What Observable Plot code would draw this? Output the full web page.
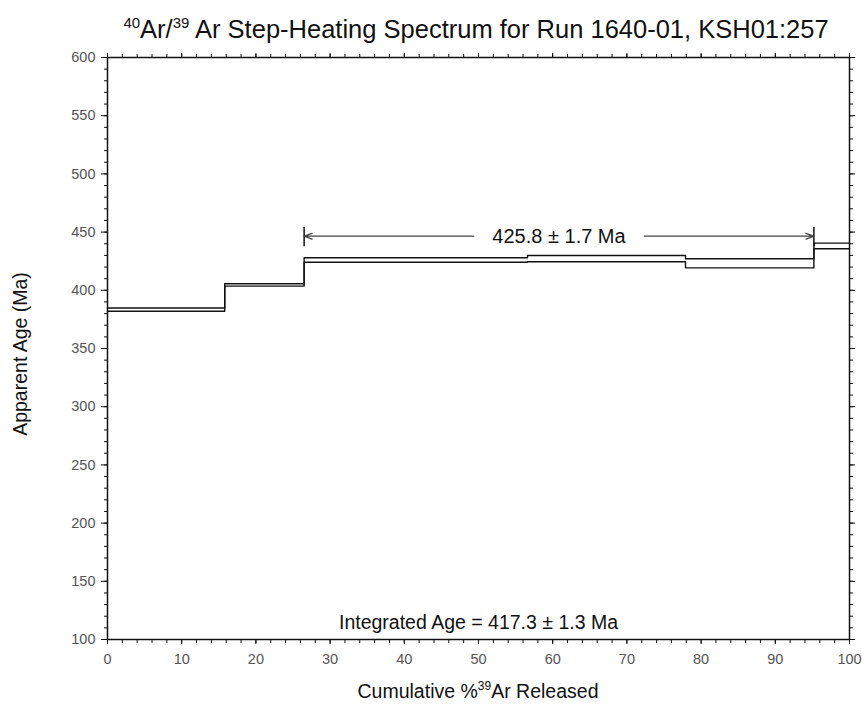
<!DOCTYPE html>
<html><head><meta charset="utf-8">
<script src="https://cdn.jsdelivr.net/npm/d3@7"></script>
<script src="https://cdn.jsdelivr.net/npm/@observablehq/plot@0.6"></script>
<style>body{margin:0;background:#fff;} #chart{width:862px;height:705px;}</style>
</head><body><div id="chart"></div>
<script>
// Step boundaries (cumulative % 39Ar released) and apparent-age envelopes (Ma)
const cumulativePct = [0, 15.8, 26.5, 56.6, 77.9, 95.2, 100];
const ageUpper = [384.8, 405.6, 427.9, 429.9, 427.1, 440.5];
const ageLower = [382.0, 403.6, 424.1, 424.5, 419.3, 435.7];
const plateauStart = 26.5;
const plateauEnd = 95.2;
const plateauArrowAge = 446.5;
const plateauLabel = "425.8 ± 1.7 Ma";
const integratedLabel = "Integrated Age = 417.3 ± 1.3 Ma";
const xMajorTicks = d3.range(0, 101, 10);
const xMinorTicks = d3.range(0, 101, 2);
const yMajorTicks = d3.range(100, 601, 50);
const yMinorTicks = d3.range(100, 601, 10);

function stepSeries(vals) {
  const pts = vals.map((v, i) => ({x: cumulativePct[i], y: v}));
  pts.push({x: cumulativePct[cumulativePct.length - 1], y: vals[vals.length - 1]});
  return pts;
}
const upper = stepSeries(ageUpper);
const lower = stepSeries(ageLower);
const mid = (plateauStart + plateauEnd) / 2;
const gap = 11.5;
const arrows = [
  {x1: mid - gap, x2: plateauStart, y: plateauArrowAge},
  {x1: mid + gap, x2: plateauEnd, y: plateauArrowAge}
];
const ends = [
  {x: plateauStart, y1: plateauArrowAge - 9, y2: plateauArrowAge + 7.5},
  {x: plateauEnd, y1: plateauArrowAge - 9, y2: plateauArrowAge + 7.5}
];
const blank = () => "";
const axisColor = "#111";

const chart = Plot.plot({
  width: 862, height: 705,
  marginLeft: 107, marginRight: 13, marginTop: 57, marginBottom: 66,
  style: {fontFamily: "'Liberation Sans', Arial, sans-serif", background: "#fff"},
  x: {domain: [0, 100]},
  y: {domain: [100, 600]},
  marks: [
    Plot.axisX(xMinorTicks, {anchor: "bottom", tickSize: 4, tickFormat: blank, label: null, stroke: axisColor}),
    Plot.axisX(xMajorTicks, {anchor: "bottom", tickSize: 5, tickPadding: 9, fontSize: 14.5, fill: "#555", label: null, stroke: axisColor}),
    Plot.axisX(xMinorTicks, {anchor: "top", tickSize: 4, tickFormat: blank, label: null, stroke: axisColor}),
    Plot.axisX(xMajorTicks, {anchor: "top", tickSize: 5, tickFormat: blank, label: null, stroke: axisColor}),
    Plot.axisY(yMinorTicks, {anchor: "left", tickSize: 3, tickFormat: blank, label: null, stroke: axisColor}),
    Plot.axisY(yMajorTicks, {anchor: "left", tickSize: 6, tickPadding: 6, fontSize: 14.5, fill: "#555", label: null, stroke: axisColor}),
    Plot.axisY(yMinorTicks, {anchor: "right", tickSize: 3, tickFormat: blank, label: null, stroke: axisColor}),
    Plot.axisY(yMajorTicks, {anchor: "right", tickSize: 5, tickFormat: blank, label: null, stroke: axisColor}),
    Plot.frame({stroke: axisColor, strokeWidth: 1.5}),
    Plot.line(upper, {x: "x", y: "y", curve: "step-after", stroke: "#111", strokeWidth: 1.4}),
    Plot.line(lower, {x: "x", y: "y", curve: "step-after", stroke: "#111", strokeWidth: 1.4}),
    Plot.ruleX(ends, {x: "x", y1: "y1", y2: "y2", stroke: "#111", strokeWidth: 1.5}),
    Plot.arrow(arrows, {x1: "x1", x2: "x2", y1: "y", y2: "y", stroke: "#444", strokeWidth: 1.4, headLength: 9, headAngle: 40}),
    Plot.text([{label: plateauLabel, x: mid, y: plateauArrowAge}], {x: "x", y: "y", text: "label", fontSize: 20, fill: "#111"}),
    Plot.text([integratedLabel], {frameAnchor: "bottom", dy: -11, fontSize: 19.5, fill: "#111"})
  ]
});
document.getElementById("chart").appendChild(chart);

const svg = d3.select(chart);
const ff = "'Liberation Sans', Arial, sans-serif";
// Title
const t = svg.append("text").attr("x", 476).attr("y", 38).attr("text-anchor", "middle")
  .attr("font-family", ff).attr("font-size", 25.5).attr("fill", "#111");
t.append("tspan").attr("font-size", 15).attr("dy", -10).text("40");
t.append("tspan").attr("dy", 10).text("Ar/");
t.append("tspan").attr("font-size", 15).attr("dy", -10).text("39");
t.append("tspan").attr("dy", 10).text(" Ar Step-Heating Spectrum for Run 1640-01, KSH01:257");
// X label
const xl = svg.append("text").attr("x", 478).attr("y", 698).attr("text-anchor", "middle")
  .attr("font-family", ff).attr("font-size", 19.5).attr("fill", "#111");
xl.append("tspan").text("Cumulative %");
xl.append("tspan").attr("font-size", 12).attr("dy", -8).text("39");
xl.append("tspan").attr("dy", 8).text("Ar Released");
// Y label
svg.append("text").attr("transform", "translate(27,354) rotate(-90)").attr("text-anchor", "middle")
  .attr("font-family", ff).attr("font-size", 19.5).attr("fill", "#111").text("Apparent Age (Ma)");
</script>
</body></html>
